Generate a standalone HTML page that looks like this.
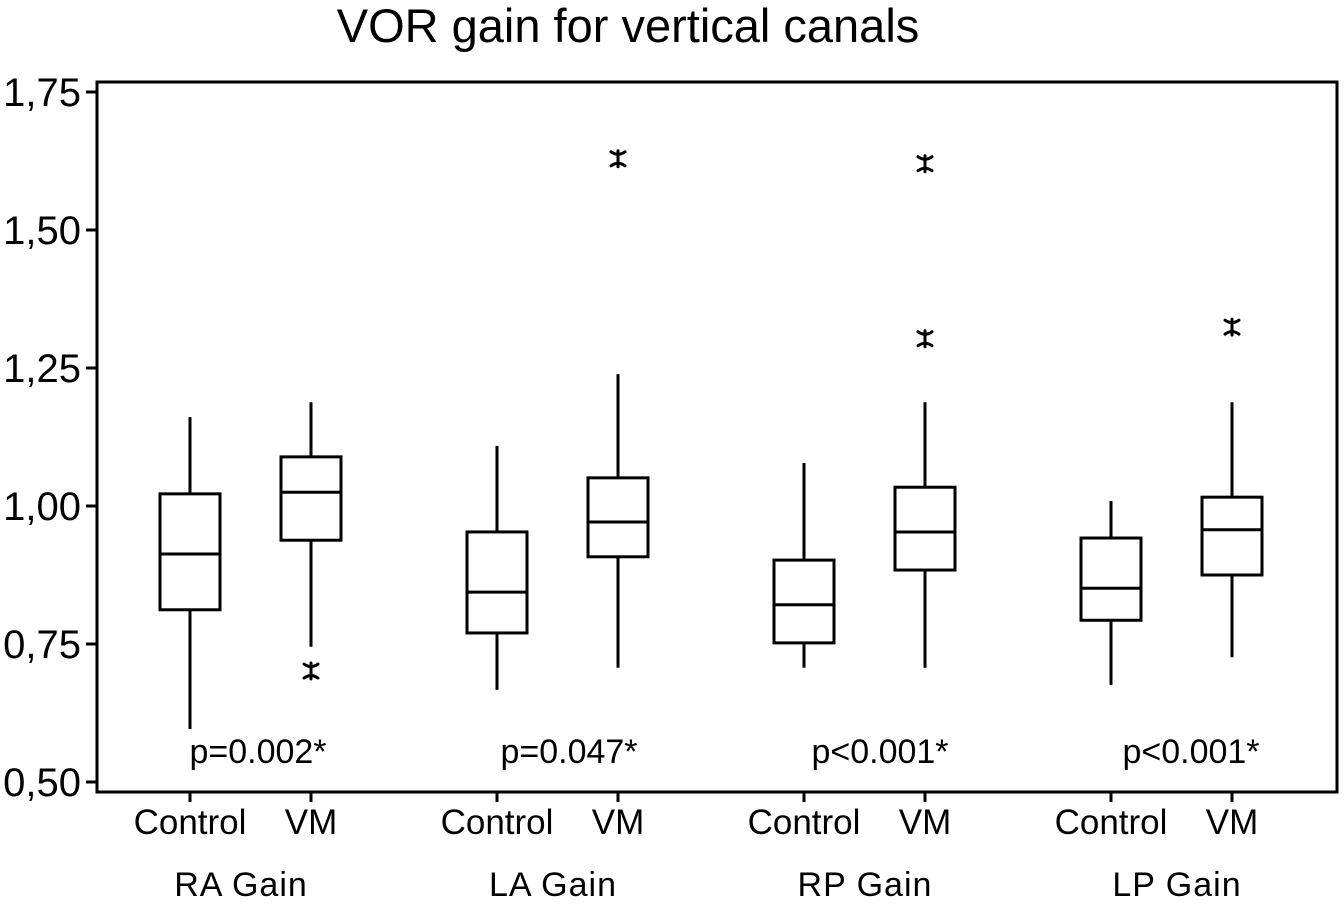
<!DOCTYPE html>
<html><head><meta charset="utf-8"><style>
html,body{margin:0;padding:0;background:#fff;}
svg{display:block;font-family:"Liberation Sans",Arial,sans-serif;}
</style></head><body>
<svg id="chart" width="1344" height="913" viewBox="0 0 1344 913">
<text x="628" y="42" font-size="47" text-anchor="middle">VOR gain for vertical canals</text>
<rect x="97" y="82" width="1240" height="710" fill="none" stroke="#000" stroke-width="3"/>
<g id="axis"></g>
<g id="boxes"></g>
</svg>
<script>
const groups = ["RA Gain","LA Gain","RP Gain","LP Gain"];
const categories = ["Control","VM","Control","VM","Control","VM","Control","VM"];
const pvalues = ["p=0.002*","p=0.047*","p<0.001*","p<0.001*"];
const whiskerLow = [0.596,0.745,0.667,0.707,0.707,0.707,0.676,0.726];
const q1 = [0.812,0.938,0.770,0.908,0.752,0.884,0.793,0.875];
const medians = [0.913,1.025,0.844,0.971,0.821,0.953,0.851,0.957];
const q3 = [1.022,1.089,0.953,1.051,0.902,1.034,0.942,1.016];
const whiskerHigh = [1.161,1.188,1.109,1.239,1.078,1.188,1.009,1.188];
const outliers = [[],[0.701],[],[1.629],[],[1.620,1.303],[],[1.324]];
const yTicks = [0.50,0.75,1.00,1.25,1.50,1.75];
const yTickLabels = ["0,50","0,75","1,00","1,25","1,50","1,75"];

const NS="http://www.w3.org/2000/svg";
const y = v => 782 - (v-0.5)*552;
const x = i => 190 + Math.floor(i/2)*307 + (i%2)*121;
function mk(tag, attrs, parent){const e=document.createElementNS(NS,tag);for(const k in attrs)e.setAttribute(k,attrs[k]);parent.appendChild(e);return e;}
const ax=document.getElementById('axis'), bx=document.getElementById('boxes');
yTicks.forEach((t,i)=>{
  const l=mk('line',{x1:86,x2:97,y1:y(t),y2:y(t),stroke:'#000','stroke-width':3},ax);
  
  
  const tx=mk('text',{x:81,y:y(t)+14,'font-size':40,'text-anchor':'end'},ax);
  tx.textContent=yTickLabels[i];
  
  
});
categories.forEach((c,i)=>{
  const cx=x(i);
  const tk=mk('line',{x1:cx,x2:cx,y1:792,y2:802,stroke:'#000','stroke-width':3},ax);
  
  
  const t=mk('text',{x:cx,y:834,'font-size':35,'text-anchor':'middle'},ax);
  t.textContent=c;
  
  
  const g=mk('g',{stroke:'#000','stroke-width':3,fill:'none'},bx);
  
  
  mk('line',{x1:cx,x2:cx,y1:y(whiskerHigh[i]),y2:y(q3[i])},g);
  mk('line',{x1:cx,x2:cx,y1:y(q1[i]),y2:y(whiskerLow[i])},g);
  mk('rect',{x:cx-30,y:y(q3[i]),width:60,height:y(q1[i])-y(q3[i])},g);
  mk('line',{x1:cx-30,x2:cx+30,y1:y(medians[i]),y2:y(medians[i])},g);
  outliers[i].forEach(o=>{
    const oy=y(o);
    const og=mk('g',{stroke:'#000','stroke-width':3,fill:'none','stroke-linecap':'round'},bx);
    
    
    mk('line',{x1:cx,x2:cx,y1:oy-8,y2:oy+8},og);
    mk('path',{d:`M${cx-7} ${oy-7} Q${cx} ${oy-2} ${cx+7} ${oy-7} M${cx-7} ${oy+7} Q${cx} ${oy+2} ${cx+7} ${oy+7}`},og);
  });
});
groups.forEach((gname,j)=>{
  const t=mk('text',{x:241+j*312,y:896,'font-size':34,'text-anchor':'middle','letter-spacing':1},ax);
  t.textContent=gname;
  
  
  const p=mk('text',{x:258+j*311,y:763,'font-size':34,'text-anchor':'middle'},ax);
  p.textContent=pvalues[j];
  
  
});
</script>
</body></html>
